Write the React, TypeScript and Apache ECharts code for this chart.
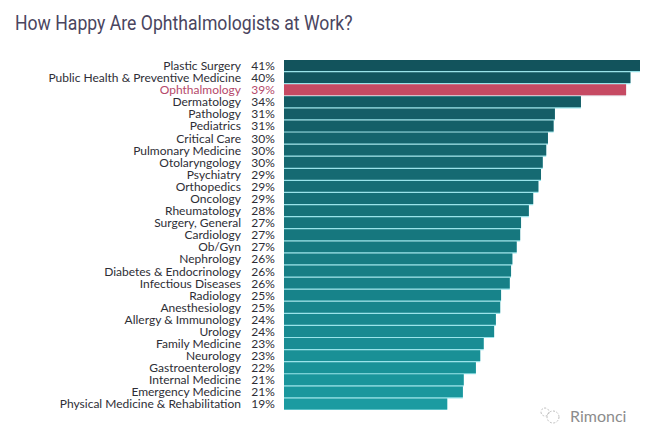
import React, { useEffect, useRef } from "react";
import * as echarts from "echarts";

const specialties = ["Plastic Surgery","Public Health & Preventive Medicine","Ophthalmology","Dermatology","Pathology","Pediatrics","Critical Care","Pulmonary Medicine","Otolaryngology","Psychiatry","Orthopedics","Oncology","Rheumatology","Surgery, General","Cardiology","Ob/Gyn","Nephrology","Diabetes & Endocrinology","Infectious Diseases","Radiology","Anesthesiology","Allergy & Immunology","Urology","Family Medicine","Neurology","Gastroenterology","Internal Medicine","Emergency Medicine","Physical Medicine & Rehabilitation"];
const percentLabels = ["41%","40%","39%","34%","31%","31%","30%","30%","30%","29%","29%","29%","28%","27%","27%","27%","26%","26%","26%","25%","25%","24%","24%","23%","23%","22%","21%","21%","19%"];
const barValues = [41,39.9,39.4,34.2,31.2,31.05,30.4,30.2,29.8,29.6,29.3,28.7,28.2,27.3,27.2,26.8,26.3,26.15,26,25,24.9,24.4,24.2,23,22.6,22.1,20.7,20.6,18.8];
const barColors = ["#12535c","#12555e","#c64a63","#135b64","#145e67","#145f68","#15646d","#15666e","#156870","#156a72","#156d75","#156f77","#167279","#16757c","#16777e","#167980","#177c83","#177e85","#178087","#17838a","#18858c","#18888f","#188a91","#198d94","#199096","#199298","#1a959b","#1a979d","#1b9ba1"];
const highlight = "Ophthalmology";
const title = "How Happy Are Ophthalmologists at Work?";
const watermark = "Rimonci";

export default function App() {
  const ref = useRef<HTMLDivElement>(null);
  useEffect(() => {
    const chart = echarts.init(ref.current!, undefined, { renderer: "svg" });
    const labelColor = (_v: any, i: number) => specialties[i] === highlight ? "#b5496a" : "#2e2e36";
    chart.setOption({
      animation: false,
      backgroundColor: "#ffffff",
      grid: { left: 284, right: 10, top: 59.5, bottom: 32, containLabel: false },
      xAxis: { type: "value", min: 0, max: 41, show: false },
      yAxis: [
        { type: "category", inverse: true, data: percentLabels.map((p, i) => ({ value: i + "|" + p })), position: "left",
          axisLine: { show: false }, axisTick: { show: false },
          axisLabel: { interval: 0, margin: 21, align: "center", fontFamily: "Lato", fontSize: 12, color: (v: any, i: number) => labelColor(v, i), formatter: (v: string) => v.split("|")[1] } },
        { type: "category", inverse: true, data: specialties, position: "left", offset: 0,
          axisLine: { show: false }, axisTick: { show: false },
          axisLabel: { interval: 0, margin: 43, fontFamily: "Lato", fontSize: 12, color: (v: any, i: number) => labelColor(v, i) } },
      ],
      series: [
        { type: "bar", yAxisIndex: 0, barWidth: "100%", barGap: "-100%", silent: true,
          data: barValues.map((v, i) => ({ value: v, itemStyle: { color: specialties[i] === highlight ? "#e3dfe6" : "#9ae4ea" } })) },
        { type: "bar", yAxisIndex: 0, barWidth: "90%", barGap: "-100%",
          data: barValues.map((v, i) => ({ value: v, itemStyle: { color: barColors[i] } })) },
      ],
      graphic: [
        { type: "text", x: 15, y: 12, scaleX: 0.84, style: { text: title, fontFamily: "Roboto", fontSize: 21, fill: "#4a4560" } },
        { type: "text", x: 570, y: 407, style: { text: watermark, fontFamily: "Lato", fontSize: 16, fill: "#8c8c8c" } },
        { type: "circle", shape: { cx: 553, cy: 417, r: 6 }, style: { fill: "none", stroke: "#bdbdbd", lineWidth: 1, lineDash: [2, 1.5] } },
        { type: "circle", shape: { cx: 545, cy: 412, r: 4 }, style: { fill: "none", stroke: "#bdbdbd", lineWidth: 1, lineDash: [2, 1.5] } },
      ],
    });
    return () => chart.dispose();
  }, []);
  return <div ref={ref} style={{ width: 650, height: 442, position: "absolute", left: 0, top: 0 }} />;
}
